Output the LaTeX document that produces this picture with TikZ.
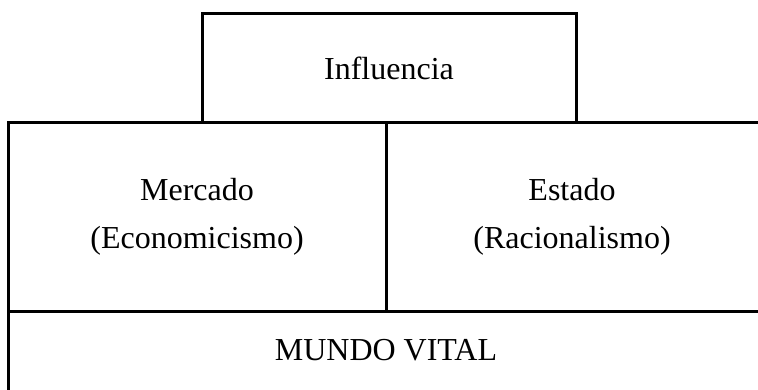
\documentclass[tikz,border=0pt]{standalone}
\usepackage{fontspec}
\setmainfont{Liberation Serif}
\begin{document}
\begin{tikzpicture}[x=1pt,y=-1pt,
  frame/.style={line width=3pt,line join=miter},
  lbl/.style={align=center,inner sep=0pt,font=\fontsize{32}{48}\selectfont}]
\useasboundingbox (0,0) rectangle (758,390);
% top box
\draw[frame] (202,14) rectangle (576,123);
% middle / bottom frame
\draw[frame] (758,123) -- (8,123) -- (8,390);
\draw[frame] (8,311) -- (758,311);
\draw[frame] (386,123) -- (386,311);
% texts
\node[lbl] (infl) at (389,68) {Influencia};
\node[lbl] (merc) at (197,217) {Mercado\\(Economicismo)};
\node[lbl] (est) at (572,217) {Estado\\(Racionalismo)};
\node[lbl] (mundo) at (386,350) {MUNDO VITAL};
\end{tikzpicture}
\end{document}
